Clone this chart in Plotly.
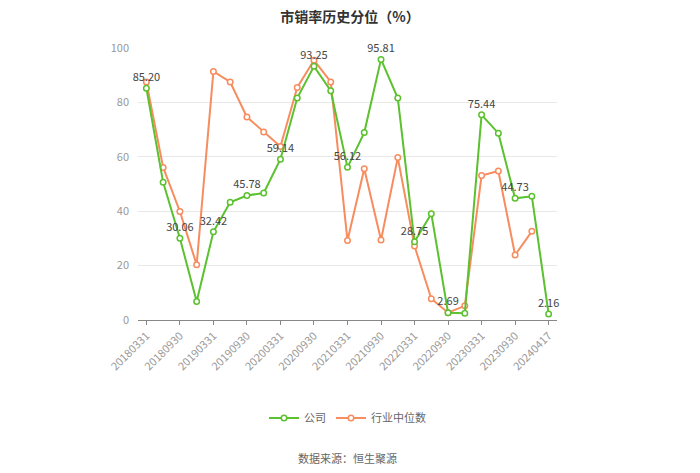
import plotly.graph_objects as go

dates = ["20180331", "20180630", "20180930", "20181231",
         "20190331", "20190630", "20190930", "20191231",
         "20200331", "20200630", "20200930", "20201231",
         "20210331", "20210630", "20210930", "20211231",
         "20220331", "20220630", "20220930", "20221231",
         "20230331", "20230630", "20230930", "20231231",
         "20240417"]
company = [85.20, 50.6, 30.06, 6.8, 32.42, 43.3, 45.78, 46.7, 59.14, 81.6,
           93.25, 84.3, 56.12, 68.9, 95.81, 81.6, 28.75, 39.1, 2.69, 2.5,
           75.44, 68.7, 44.73, 45.5, 2.16]
industry = [87.5, 56.1, 39.9, 20.3, 91.4, 87.5, 74.6, 69.1, 63.8, 85.5,
            95.5, 87.5, 29.2, 55.6, 29.4, 59.7, 27.2, 7.8, 2.7, 5.2,
            53.1, 54.8, 23.9, 32.6, None]
labeled_idx = [0, 2, 4, 6, 8, 10, 12, 14, 16, 18, 20, 22, 24]
tick_dates = [dates[i] for i in labeled_idx]
yticks = [0, 20, 40, 60, 80, 100]

green = "#5BC12E"
orange = "#F78C5E"
font_family = "Noto Sans CJK SC, Noto Sans, sans-serif"

company_text = [f"{v:.2f}" if i in labeled_idx else "" for i, v in enumerate(company)]

fig = go.Figure()
fig.add_trace(go.Scatter(
    x=dates, y=industry, name="行业中位数", mode="lines+markers",
    line=dict(color=orange, width=2),
    marker=dict(symbol="circle", size=5.5, color="white", line=dict(color=orange, width=1.5)),
    connectgaps=False, legendrank=2,
))
fig.add_trace(go.Scatter(
    x=dates, y=company, name="公司", mode="lines+markers+text",
    line=dict(color=green, width=2),
    marker=dict(symbol="circle", size=5.5, color="white", line=dict(color=green, width=1.5)),
    text=company_text, textposition="top center",
    textfont=dict(size=11, color="#444", family=font_family),
    cliponaxis=False, legendrank=1,
))

fig.update_layout(
    width=700, height=473,
    margin=dict(l=138, r=143, t=48, b=153),
    paper_bgcolor="white", plot_bgcolor="white",
    font=dict(family=font_family, color="#999", size=11),
    title=dict(text="<b>市销率历史分位（%）</b>", x=0.5, xanchor="center",
               y=0.975, yanchor="top",
               font=dict(size=14, color="#333", family=font_family)),
    showlegend=True,
    legend=dict(orientation="h", x=0.5, xanchor="center", y=-0.36, yanchor="middle",
                font=dict(size=11, color="#666", family=font_family),
                itemwidth=30),
    xaxis=dict(type="category", categoryorder="array", categoryarray=dates,
               range=[-0.5, len(dates) - 0.5],
               tickmode="array", tickvals=tick_dates, ticktext=tick_dates,
               tickangle=-45, tickfont=dict(size=11, color="#999"),
               showgrid=False, showline=True, linecolor="#888", linewidth=1,
               ticks="outside", ticklen=4, tickcolor="#888", zeroline=False),
    yaxis=dict(range=[0, 100], tickvals=yticks, showgrid=True, gridcolor="#E8E8E8",
               gridwidth=1, zeroline=False, showline=False,
               tickfont=dict(size=11, color="#999"), ticks="", ticklabelstandoff=8),
    annotations=[dict(text="数据来源：恒生聚源", x=0.5, xref="paper", y=-0.508, yref="paper",
                      xanchor="center", yanchor="middle", showarrow=False,
                      font=dict(size=11, color="#666", family=font_family))],
)

fig.write_html("out.html")
